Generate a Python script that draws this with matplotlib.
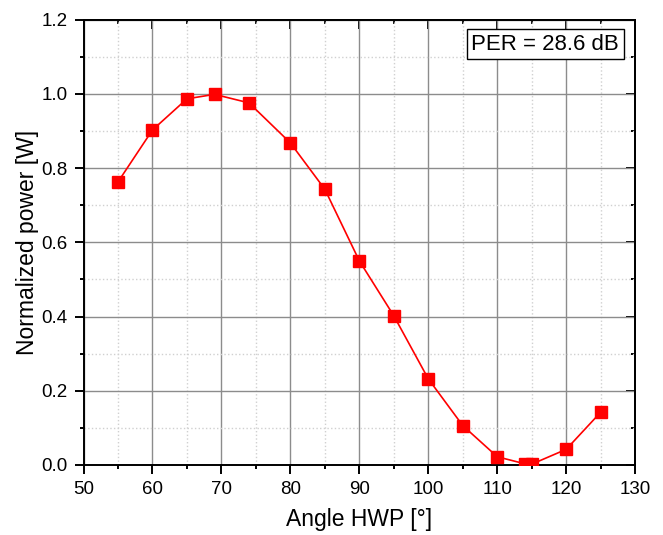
import matplotlib.pyplot as plt
from matplotlib.ticker import MultipleLocator

plt.rcParams['font.family'] = ['Liberation Sans', 'DejaVu Sans']

angle = [55, 60, 65, 69, 74, 80, 85, 90, 95, 100, 105, 110, 114, 115, 120, 125]
power = [0.763, 0.903, 0.987, 0.999, 0.976, 0.868, 0.743, 0.550, 0.402, 0.232,
         0.106, 0.022, 0.003, 0.002, 0.042, 0.142]
per_label = 'PER = 28.6 dB'

fig = plt.figure(figsize=(6.63, 5.35), dpi=100)
ax = fig.add_axes([0.126, 0.131, 0.832, 0.832])

ax.plot(angle, power, color='red', linewidth=1.2, marker='s', markersize=8,
        markeredgecolor='red', markerfacecolor='red', zorder=3)

ax.set_xlim(50, 130)
ax.set_ylim(0, 1.2)
ax.xaxis.set_major_locator(MultipleLocator(10))
ax.xaxis.set_minor_locator(MultipleLocator(5))
ax.yaxis.set_major_locator(MultipleLocator(0.2))
ax.yaxis.set_minor_locator(MultipleLocator(0.1))
ax.yaxis.set_major_formatter(plt.FormatStrFormatter('%.1f'))

ax.grid(True, which='major', color='#8c8c8c', linewidth=1.0)
ax.grid(True, which='minor', color='#d0d0d0', linewidth=1.0, linestyle=':')
ax.set_axisbelow(True)

ax.tick_params(which='both', direction='out', top=False, right=False, labelsize=13.5, width=1.4)
ax.tick_params(which='major', length=6.5, pad=5)
ax.tick_params(which='minor', length=3)

sec_x = ax.secondary_xaxis('top')
sec_x.xaxis.set_major_locator(MultipleLocator(10))
sec_x.xaxis.set_minor_locator(MultipleLocator(5))
sec_x.tick_params(which='both', direction='in', labeltop=False, width=1.4)
sec_x.tick_params(which='major', length=6.5)
sec_x.tick_params(which='minor', length=3)
sec_y = ax.secondary_yaxis('right')
sec_y.yaxis.set_major_locator(MultipleLocator(0.2))
sec_y.yaxis.set_minor_locator(MultipleLocator(0.1))
sec_y.tick_params(which='both', direction='in', labelright=False, width=1.4)
sec_y.tick_params(which='major', length=6.5)
sec_y.tick_params(which='minor', length=3)
for s in ax.spines.values():
    s.set_linewidth(1.4)
sec_x.spines['top'].set_linewidth(1.4)
sec_y.spines['right'].set_linewidth(1.4)

ax.set_xlabel('Angle HWP [°]', fontsize=16.5, labelpad=7)
ax.set_ylabel('Normalized power [W]', fontsize=16.5, labelpad=2)

ax.text(0.971, 0.969, per_label, transform=ax.transAxes, ha='right', va='top', fontsize=16,
        bbox=dict(boxstyle='square,pad=0.2', facecolor='white', edgecolor='black', linewidth=1.0))

fig.savefig('out.png', dpi=100)
